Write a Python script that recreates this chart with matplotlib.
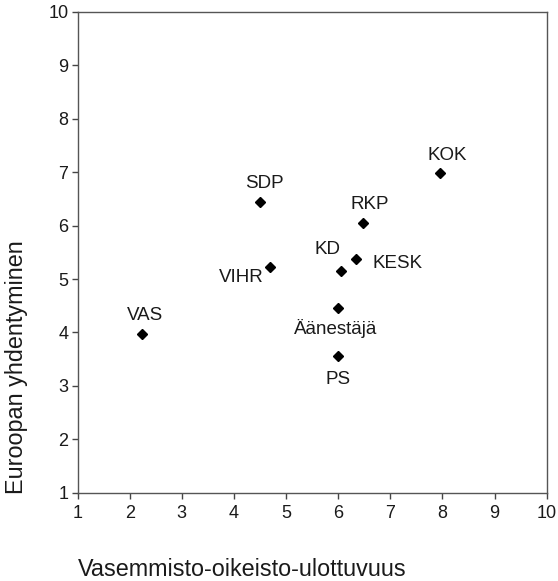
import matplotlib
matplotlib.use("Agg")
import matplotlib.pyplot as plt

parties = ["VAS", "SDP", "VIHR", "KD", "KESK", "RKP", "KOK", "Äänestäjä", "PS"]
left_right = [2.24, 4.50, 4.69, 6.06, 6.34, 6.47, 7.96, 5.99, 5.99]
eu_integration = [3.97, 6.44, 5.23, 5.15, 5.37, 6.05, 6.98, 4.46, 3.56]

x_ticks = [1, 2, 3, 4, 5, 6, 7, 8, 9, 10]
y_ticks = [1, 2, 3, 4, 5, 6, 7, 8, 9, 10]

label_pos = {
    "VAS": ((3, 19), "center", "center"),
    "SDP": ((4, 19), "center", "center"),
    "VIHR": ((-6, -11), "right", "center"),
    "KD": ((-14, 22), "center", "center"),
    "KESK": ((17, -4), "left", "center"),
    "RKP": ((7, 18), "center", "center"),
    "KOK": ((7, 18), "center", "center"),
    "Äänestäjä": ((-2, -21), "center", "center"),
    "PS": ((0, -24), "center", "center"),
}

plt.rcParams['font.family'] = ['Liberation Sans', 'DejaVu Sans']

W, H = 558, 581
fig = plt.figure(figsize=(W / 100, H / 100), dpi=100)
ax = fig.add_axes([77.5 / W, 1 - 492.7 / H, (546.7 - 77.5) / W, (492.7 - 12) / H])

ax.plot(left_right, eu_integration, linestyle='none', marker='D', markersize=5.3,
        color='black')

for name, xv, yv in zip(parties, left_right, eu_integration):
    off, ha, va = label_pos[name]
    ax.annotate(name, (xv, yv), xytext=off, textcoords='offset pixels',
                ha=ha, va=va, fontsize=13.5, color='#1a1a1a')

ax.set_xlim(1, 10)
ax.set_ylim(1, 10)
ax.set_xticks(x_ticks)
ax.set_yticks(y_ticks)
ax.tick_params(direction='out', length=4, width=1, colors='#444444',
               labelsize=13, labelcolor='#1a1a1a')
ax.tick_params(axis='x', pad=5)
ax.tick_params(axis='y', pad=2.5)
for s in ax.spines.values():
    s.set_color('#555555')
    s.set_linewidth(1.0)

fig.text(78 / W, 1 - 576 / H, "Vasemmisto-oikeisto-ulottuvuus", ha='left',
         va='baseline', fontsize=16.8, color='#1a1a1a')
fig.text(17 / W, 1 - 367 / H, "Euroopan yhdentyminen", ha='center',
         va='center', rotation=90, fontsize=16.8, color='#1a1a1a')

fig.savefig("out.png", dpi=100)
